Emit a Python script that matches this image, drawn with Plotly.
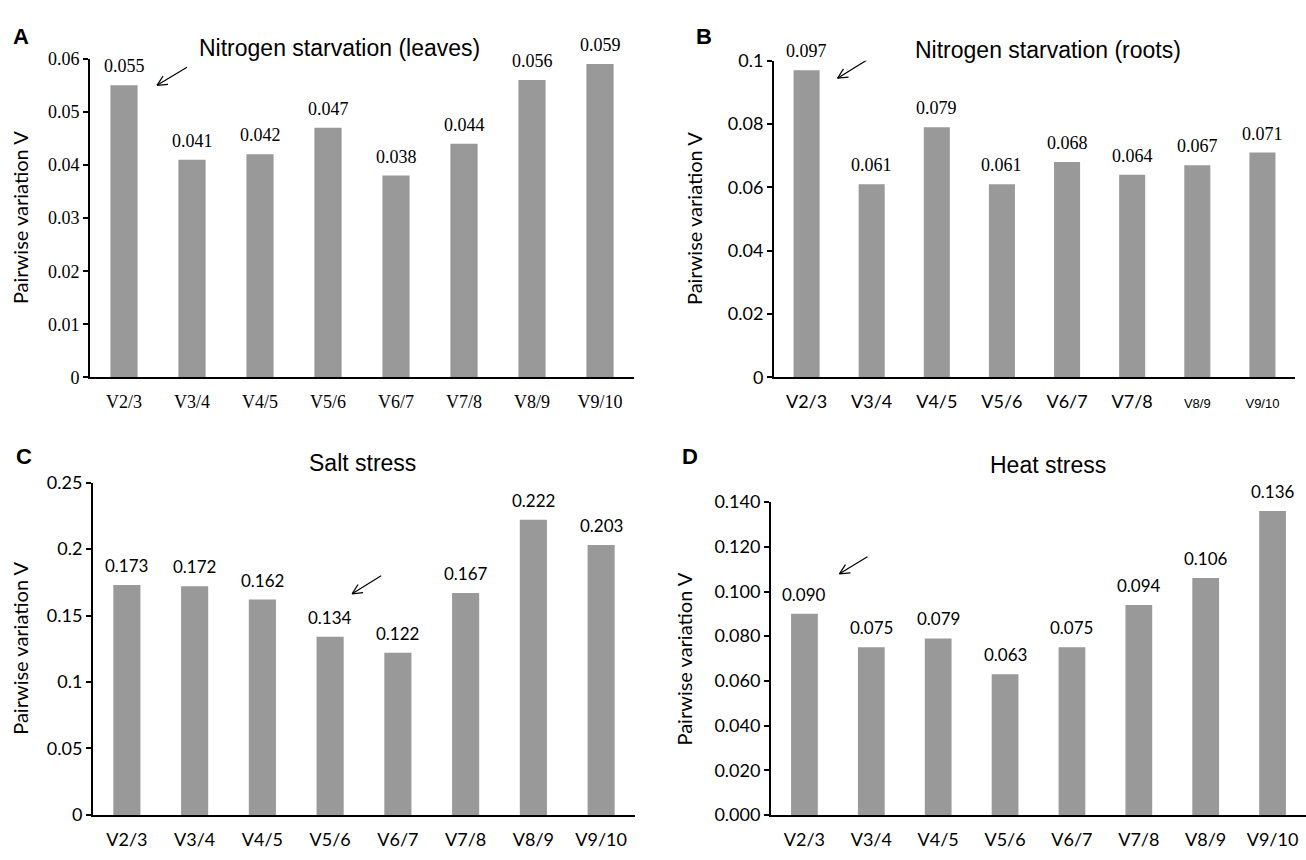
import math
import plotly.graph_objects as go

# Pairwise variation (V) for successive numbers of reference genes
categories = ["V2/3", "V3/4", "V4/5", "V5/6", "V6/7", "V7/8", "V8/9", "V9/10"]
n_leaves = [0.055, 0.041, 0.042, 0.047, 0.038, 0.044, 0.056, 0.059]
n_roots = [0.097, 0.061, 0.079, 0.061, 0.068, 0.064, 0.067, 0.071]
salt = [0.173, 0.172, 0.162, 0.134, 0.122, 0.167, 0.222, 0.203]
heat = [0.090, 0.075, 0.079, 0.063, 0.075, 0.094, 0.106, 0.136]

ticks_a = [0, 0.01, 0.02, 0.03, 0.04, 0.05, 0.06]
ticks_b = [0, 0.02, 0.04, 0.06, 0.08, 0.1]
ticks_c = [0, 0.05, 0.1, 0.15, 0.2, 0.25]
ticks_d = [0, 0.02, 0.04, 0.06, 0.08, 0.10, 0.12, 0.14]

W, H = 1306, 860
BAR = "#999999"
SERIF = "Liberation Serif"
SANS = "Liberation Sans"
CAL = "Lato"


def fx(p):
    return p / W


def fy(p):
    return 1 - p / H


# x/y give the pixel extent of each plotting area; title/letter/ylab give label anchors
panels = [
    dict(key="", data=n_leaves, letter="A", title="Nitrogen starvation (leaves)",
         x=(90, 634), y=(375, 48), ticks=ticks_a, ticktext=[f"{t:g}" for t in ticks_a],
         tickfont=SERIF, xfont=SERIF, valfont=SERIF, tsize=18, vsize=18,
         xlabels=categories, arrow=(0, 33, 0, 63, 18),
         title_pos=(197, 37, "left"), letter_pos=(11, 25), ylab_x=20),
    dict(key="2", data=n_roots, letter="B", title="Nitrogen starvation (roots)",
         x=(774, 1295), y=(375, 50), ticks=ticks_b, ticktext=[f"{t:g}" for t in ticks_b],
         tickfont=CAL, xfont=CAL, valfont=SERIF, tsize=18, vsize=18,
         xlabels=categories[:6] + [f'<span style="font-size:13px;font-family:{SANS}">{c}</span>'
                                   for c in categories[6:]],
         arrow=(0, 31, -8, 60, 10),
         title_pos=(1183, 39, "right"), letter_pos=(694, 25), ylab_x=694),
    dict(key="3", data=salt, letter="C", title="Salt stress",
         x=(93, 635), y=(824, 483), ticks=ticks_c, ticktext=[f"{t:g}" for t in ticks_c],
         tickfont=CAL, xfont=CAL, valfont=CAL, tsize=18, vsize=17,
         xlabels=categories, arrow=(3, 22, 43, 51, 61),
         title_pos=(307, 463, "left"), letter_pos=(14, 456), ylab_x=20),
    dict(key="4", data=heat, letter="D", title="Heat stress",
         x=(771, 1306), y=(824, 503), ticks=ticks_d, ticktext=[f"{t:.3f}" for t in ticks_d],
         tickfont=CAL, xfont=CAL, valfont=CAL, tsize=18, vsize=17,
         xlabels=categories, arrow=(0, 35, 40, 63, 57),
         title_pos=(988, 465, "left"), letter_pos=(680, 456), ylab_x=684),
]

fig = go.Figure()
annotations = []
shapes = []

for p in panels:
    k = p["key"]
    xa, ya = "x" + k, "y" + k
    idx = list(range(len(categories)))
    fig.add_trace(go.Bar(x=idx, y=p["data"], width=0.4, marker_color=BAR,
                         marker_line_width=0, xaxis=xa, yaxis=ya, showlegend=False))

    fig.layout["xaxis" + k] = dict(
        domain=[fx(p["x"][0]), fx(p["x"][1])], anchor=ya, range=[-0.5, 7.5],
        tickmode="array", tickvals=idx, ticktext=p["xlabels"], ticks="",
        showline=True, linecolor="black", linewidth=2, showgrid=False, zeroline=False,
        tickfont=dict(family=p["xfont"], size=p["tsize"], color="black"),
        ticklabelstandoff=7, fixedrange=True)
    fig.layout["yaxis" + k] = dict(
        domain=[fy(p["y"][0]), fy(p["y"][1])], anchor=xa, range=[0, p["ticks"][-1]],
        tickmode="array", tickvals=p["ticks"], ticktext=p["ticktext"],
        ticks="outside", ticklen=5, tickwidth=1.5, tickcolor="black",
        showline=True, linecolor="black", linewidth=2, showgrid=False, zeroline=False,
        tickfont=dict(family=p["tickfont"], size=p["tsize"], color="black"),
        fixedrange=True)

    # value labels above each bar
    for i, v in enumerate(p["data"]):
        annotations.append(dict(x=i, y=v, xref=xa, yref=ya, text=f"{v:.3f}", showarrow=False,
                                yanchor="bottom", yshift=7,
                                font=dict(family=p["valfont"], size=p["vsize"], color="black")))

    # y-axis title
    annotations.append(dict(x=fx(p["ylab_x"]), y=(fy(p["y"][0]) + fy(p["y"][1])) / 2,
                            xref="paper", yref="paper", text="Pairwise variation V",
                            textangle=-90, showarrow=False, xanchor="center", yanchor="middle",
                            font=dict(family=CAL, size=20, color="black")))

    # panel title
    tx_, ty_, anc = p["title_pos"]
    annotations.append(dict(x=fx(tx_), y=fy(ty_), xref="paper", yref="paper",
                            text=p["title"], showarrow=False, xanchor=anc, yanchor="middle",
                            font=dict(family=SANS, size=23, color="black")))

    # panel letter
    lx, ly = p["letter_pos"]
    annotations.append(dict(x=fx(lx), y=fy(ly), xref="paper", yref="paper",
                            text=f"<b>{p['letter']}</b>", showarrow=False,
                            xanchor="left", yanchor="middle",
                            font=dict(family=SANS, size=22, color="black")))

    # open arrow pointing at the selected bar
    bi, hx, hy, tx, ty = p["arrow"]
    ang = math.atan2(ty - hy, tx - hx)
    common = dict(type="line", xref=xa, yref=ya, xsizemode="pixel", ysizemode="pixel",
                  xanchor=bi, yanchor=p["data"][bi], line=dict(color="black", width=1.2))
    shapes.append(dict(common, x0=hx, y0=hy, x1=tx, y1=ty))
    for d in (0.45, -0.45):
        shapes.append(dict(common, x0=hx, y0=hy,
                           x1=hx + 11 * math.cos(ang + d), y1=hy + 11 * math.sin(ang + d)))

fig.update_layout(
    width=W, height=H, margin=dict(l=0, r=0, t=0, b=0),
    paper_bgcolor="white", plot_bgcolor="white",
    annotations=annotations, shapes=shapes, bargap=0.6,
)

fig.write_html("out.html")
